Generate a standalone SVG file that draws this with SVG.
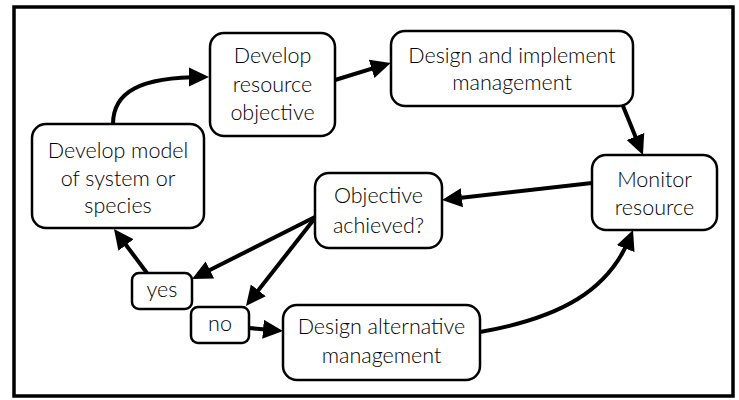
<svg xmlns="http://www.w3.org/2000/svg" width="739" height="400" viewBox="0 0 739 400">
<style>
.box{fill:#fff;stroke:#000;stroke-width:2.5}
text{font-family:"Lato","Open Sans",sans-serif;font-size:21.5px;font-weight:300;fill:#000;text-anchor:middle}
.c{fill:none;stroke:#000;stroke-width:4}
</style>
<defs>
<marker id="ah" markerUnits="userSpaceOnUse" markerWidth="20" markerHeight="20" viewBox="0 0 20 20" refX="14" refY="10" orient="auto">
<path d="M0,0.5 L20,10 L0,19.5 z" fill="#000"/>
</marker>
</defs>
<rect x="0" y="0" width="739" height="400" fill="#fff"/>
<rect x="14" y="7" width="719" height="389" fill="none" stroke="#000" stroke-width="3.5"/>
<g id="connectors">
<path class="c" d="M113,124 C113,92 140,77 203,77" marker-end="url(#ah)"/>
<path class="c" d="M335,80 L385,64.7" marker-end="url(#ah)"/>
<path class="c" d="M623,106 L640.7,149.5" marker-end="url(#ah)"/>
<path class="c" d="M592,183 L448,199.3" marker-end="url(#ah)"/>
<path class="c" d="M315,217 L197.4,276.3" marker-end="url(#ah)"/>
<path class="c" d="M315,218 L249.7,301.3" marker-end="url(#ah)"/>
<path class="c" d="M147,273 L117.6,233.8" marker-end="url(#ah)"/>
<path class="c" d="M249,328 L277,330.5" marker-end="url(#ah)"/>
<path class="c" d="M480,332 C560,318 609,291 630.8,235.6" marker-end="url(#ah)"/>
</g>
<g id="n-objective">
<rect class="box" x="210" y="33" width="125" height="103" rx="14"/>
<text x="272.5" y="63">Develop</text>
<text x="272.5" y="92">resource</text>
<text x="272.5" y="120">objective</text>
</g>
<g id="n-model">
<rect class="box" x="32" y="124" width="172" height="104" rx="14"/>
<text x="118" y="158">Develop model</text>
<text x="118" y="186">of system or</text>
<text x="118" y="213">species</text>
</g>
<g id="n-design">
<rect class="box" x="391" y="31" width="242" height="75" rx="14"/>
<text x="512" y="63">Design and implement</text>
<text x="512" y="90">management</text>
</g>
<g id="n-monitor">
<rect class="box" x="592" y="155" width="125" height="75" rx="14"/>
<text x="654.5" y="187">Monitor</text>
<text x="654.5" y="215">resource</text>
</g>
<g id="n-achieved">
<rect class="box" x="315" y="173" width="127" height="75" rx="14"/>
<text x="378.5" y="203">Objective</text>
<text x="378.5" y="233">achieved?</text>
</g>
<g id="n-yes">
<rect class="box" x="132" y="273" width="60" height="36" rx="7"/>
<text x="162" y="297">yes</text>
</g>
<g id="n-no">
<rect class="box" x="191" y="307" width="58" height="36" rx="7"/>
<text x="220" y="331">no</text>
</g>
<g id="n-alternative">
<rect class="box" x="283" y="305" width="197" height="75" rx="14"/>
<text x="381.5" y="334">Design alternative</text>
<text x="381.5" y="363">management</text>
</g>
</svg>
